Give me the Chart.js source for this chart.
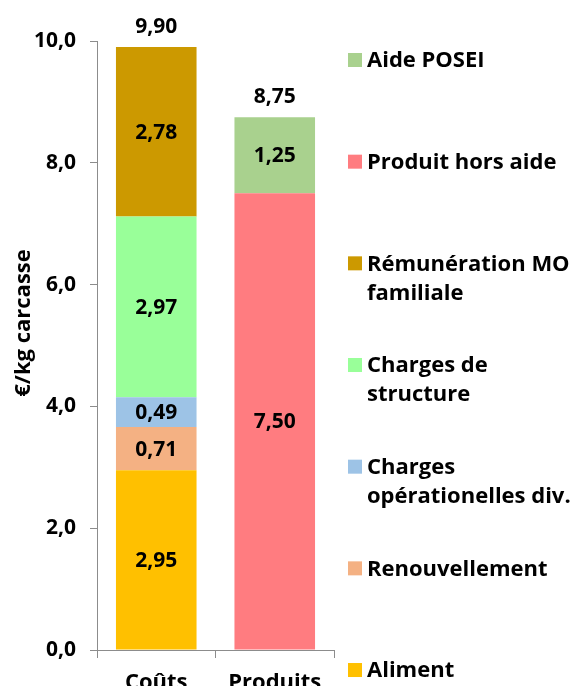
<!DOCTYPE html>
<html>
<head>
<meta charset="utf-8">
<script src="https://cdn.jsdelivr.net/npm/chart.js@4"></script>
<style>
html,body{margin:0;padding:0;background:#fff;}
#wrap{width:574px;height:686px;position:relative;}
</style>
</head>
<body>
<div id="wrap"><canvas id="c" width="574" height="686"></canvas></div>
<script>
const categories = ['Coûts', 'Produits'];
const seriesLabels = [
  'Aliment',
  'Renouvellement',
  ['Charges', 'opérationelles div.'],
  ['Charges de', 'structure'],
  ['Rémunération MO', 'familiale'],
  'Produit hors aide',
  'Aide POSEI'
];
const alimentValues = [2.95, null];
const renouvellementValues = [0.71, null];
const chargesOpValues = [0.49, null];
const chargesStructValues = [2.97, null];
const remunerationValues = [2.78, null];
const produitHorsAideValues = [null, 7.50];
const aidePoseiValues = [null, 1.25];
const seriesColors = ['#FFC000', '#F4B183', '#9DC3E6', '#99FF99', '#CC9900', '#FF7C80', '#A9D18E'];
const yTicks = [0, 2, 4, 6, 8, 10];
const yTitle = '€/kg carcasse';

const seriesValues = [alimentValues, renouvellementValues, chargesOpValues, chargesStructValues,
  remunerationValues, produitHorsAideValues, aidePoseiValues];

const FONT = '"Open Sans", "DejaVu Sans", sans-serif';
const fmt = (v, d) => v.toFixed(d).replace('.', ',');

const datasets = seriesValues.map((vals, i) => ({
  label: seriesLabels[i],
  data: vals,
  backgroundColor: seriesColors[i],
  borderWidth: 0,
  categoryPercentage: 1.0,
  barPercentage: 0.68,
  stack: 's'
}));

const labelPlugin = {
  id: 'labels',
  afterDatasetsDraw(chart) {
    const ctx = chart.ctx;
    ctx.save();
    ctx.fillStyle = '#000';
    ctx.font = 'bold 21px ' + FONT;
    ctx.textAlign = 'center';
    ctx.textBaseline = 'middle';
    const totals = categories.map(() => 0);
    const tops = categories.map(() => Infinity);
    chart.data.datasets.forEach((ds, di) => {
      const meta = chart.getDatasetMeta(di);
      meta.data.forEach((el, i) => {
        const v = ds.data[i];
        if (v == null) return;
        totals[i] += v;
        const cy = (el.y + el.base) / 2;
        ctx.fillText(fmt(v, 2), el.x, cy + 1);
        tops[i] = Math.min(tops[i], el.y);
      });
    });
    categories.forEach((c, i) => {
      ctx.fillText(fmt(totals[i], 2), chart.scales.x.getPixelForValue(i), tops[i] - 20);
    });
    // y title
    ctx.save();
    ctx.font = 'bold 22px ' + FONT;
    ctx.translate(24, 323);
    ctx.rotate(-Math.PI / 2);
    ctx.fillText(yTitle, 0, 0);
    ctx.restore();
    // legend
    const order = chart.data.datasets.map((d, i) => i).reverse();
    const startY = 60, step = 101.67, lineH = 29;
    ctx.textAlign = 'left';
    ctx.font = 'bold 22px ' + FONT;
    order.forEach((di, k) => {
      const ds = chart.data.datasets[di];
      const y = startY + k * step;
      ctx.fillStyle = ds.backgroundColor;
      ctx.fillRect(348, y - 7, 14, 14);
      ctx.fillStyle = '#000';
      const lines = Array.isArray(ds.label) ? ds.label : [ds.label];
      lines.forEach((ln, j) => ctx.fillText(ln, 367, y + 1 + j * lineH));
    });
    ctx.restore();
  }
};

new Chart(document.getElementById('c'), {
  type: 'bar',
  data: { labels: categories, datasets },
  options: {
    responsive: false,
    animation: false,
    devicePixelRatio: 1,
    layout: { padding: { top: 41, right: 240, left: 0, bottom: 0 } },
    plugins: { legend: { display: false }, tooltip: { enabled: false } },
    scales: {
      x: {
        stacked: true,
        grid: { drawOnChartArea: false, drawTicks: true, tickLength: 8, color: '#8c8c8c', offset: true },
        border: { color: '#8c8c8c', width: 1 },
        ticks: { color: '#000', font: { family: FONT, size: 22, weight: 'bold' }, padding: 12 },
        afterFit(s) { s.height = 36; }
      },
      y: {
        stacked: true,
        min: 0, max: 10,
        afterBuildTicks(s) { s.ticks = yTicks.map(v => ({ value: v })); },
        grid: { drawOnChartArea: false, drawTicks: true, tickLength: 7, color: '#8c8c8c' },
        border: { color: '#8c8c8c', width: 1 },
        ticks: { color: '#000', font: { family: FONT, size: 21, weight: 'bold' }, padding: 14,
          callback: v => fmt(v, 1) },
        afterFit(s) { s.width = 97; }
      }
    }
  },
  plugins: [labelPlugin]
});
</script>
</body>
</html>
